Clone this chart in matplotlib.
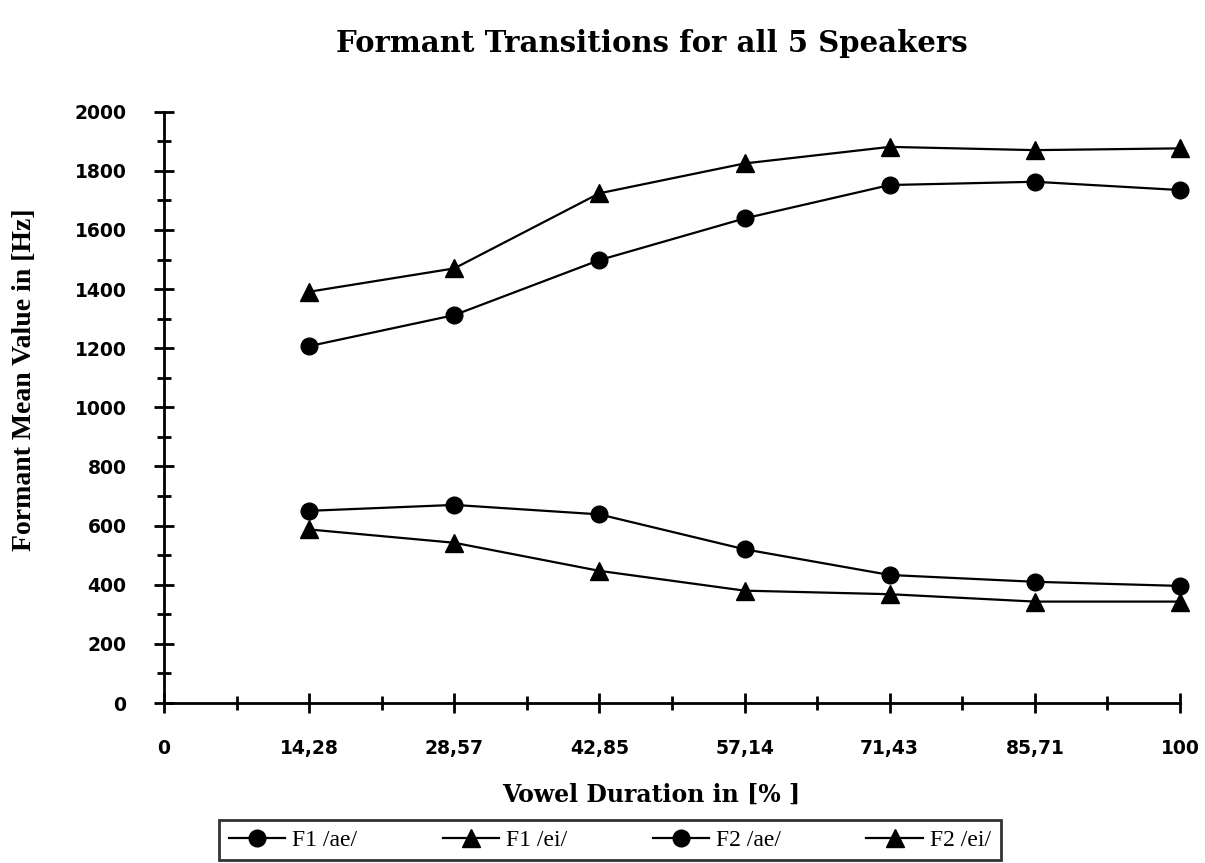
import matplotlib
matplotlib.use("Agg")
import matplotlib.pyplot as plt
from matplotlib.ticker import FixedLocator, MultipleLocator

# vowel duration positions in percent
duration = [14.28, 28.57, 42.85, 57.14, 71.43, 85.71, 100]
tick_pos = [0, 14.28, 28.57, 42.85, 57.14, 71.43, 85.71, 100]
tick_labels = ["0", "14,28", "28,57", "42,85", "57,14", "71,43", "85,71", "100"]

# formant means in Hz
f1_ae = [650, 670, 638, 520, 433, 410, 396]
f1_ei = [587, 542, 447, 380, 368, 343, 343]
f2_ae = [1207, 1312, 1498, 1639, 1752, 1763, 1735]
f2_ei = [1391, 1470, 1724, 1825, 1881, 1870, 1876]

W, H = 1205, 863
fig = plt.figure(figsize=(W / 100, H / 100), dpi=100)
ax = fig.add_axes([164 / W, 1 - 703 / H, (1180 - 164) / W, (703 - 111.7) / H])

series = [
    (f1_ae, "o", "F1 /ae/"),
    (f1_ei, "^", "F1 /ei/"),
    (f2_ae, "o", "F2 /ae/"),
    (f2_ei, "^", "F2 /ei/"),
]
for vals, mk, lab in series:
    ax.plot(duration, vals, color="black", lw=1.6, marker=mk,
            markersize=13 if mk == "^" else 12, markerfacecolor="black",
            markeredgecolor="black", label=lab, clip_on=False)

ax.set_xlim(0, 100)
ax.set_ylim(0, 2000)
ax.spines["top"].set_visible(False)
ax.spines["right"].set_visible(False)
for s in ("left", "bottom"):
    ax.spines[s].set_linewidth(2)

ax.xaxis.set_major_locator(FixedLocator(tick_pos))
ax.set_xticklabels(tick_labels)
mids = [(a + b) / 2 for a, b in zip(tick_pos[:-1], tick_pos[1:])]
ax.xaxis.set_minor_locator(FixedLocator(mids))
ax.yaxis.set_major_locator(MultipleLocator(200))
ax.yaxis.set_minor_locator(MultipleLocator(100))

ax.tick_params(which="major", direction="inout", length=14, width=2,
               labelsize=13.5)
ax.tick_params(which="minor", direction="inout", length=10, width=2)
ax.tick_params(axis="x", which="major", pad=19)
ax.tick_params(axis="y", which="major", pad=20)
for t in ax.get_xticklabels() + ax.get_yticklabels():
    t.set_fontweight("bold")
    t.set_family("DejaVu Sans")

fig.text(652 / W, 1 - 44 / H, "Formant Transitions for all 5 Speakers",
         ha="center", va="center", family="DejaVu Serif", fontweight="bold",
         fontsize=21)
fig.text(651 / W, 1 - 795 / H, "Vowel Duration in [% ]", ha="center",
         va="center", family="DejaVu Serif", fontweight="bold", fontsize=17)
fig.text(25 / W, 1 - 380 / H, "Formant Mean Value in [Hz]", ha="center",
         va="center", rotation=90, family="Liberation Serif",
         fontweight="bold", fontsize=20)

leg = fig.legend(loc="upper center", bbox_to_anchor=(610 / W, 1 - 820 / H),
                 borderaxespad=0, ncol=4, frameon=True, fancybox=False,
                 handlelength=2.4, columnspacing=3.6, handletextpad=0.3,
                 borderpad=0.4, prop={"family": "Liberation Serif", "size": 17})
leg.get_frame().set_edgecolor("black")
leg.get_frame().set_linewidth(2)

fig.savefig("out.png", dpi=100)
